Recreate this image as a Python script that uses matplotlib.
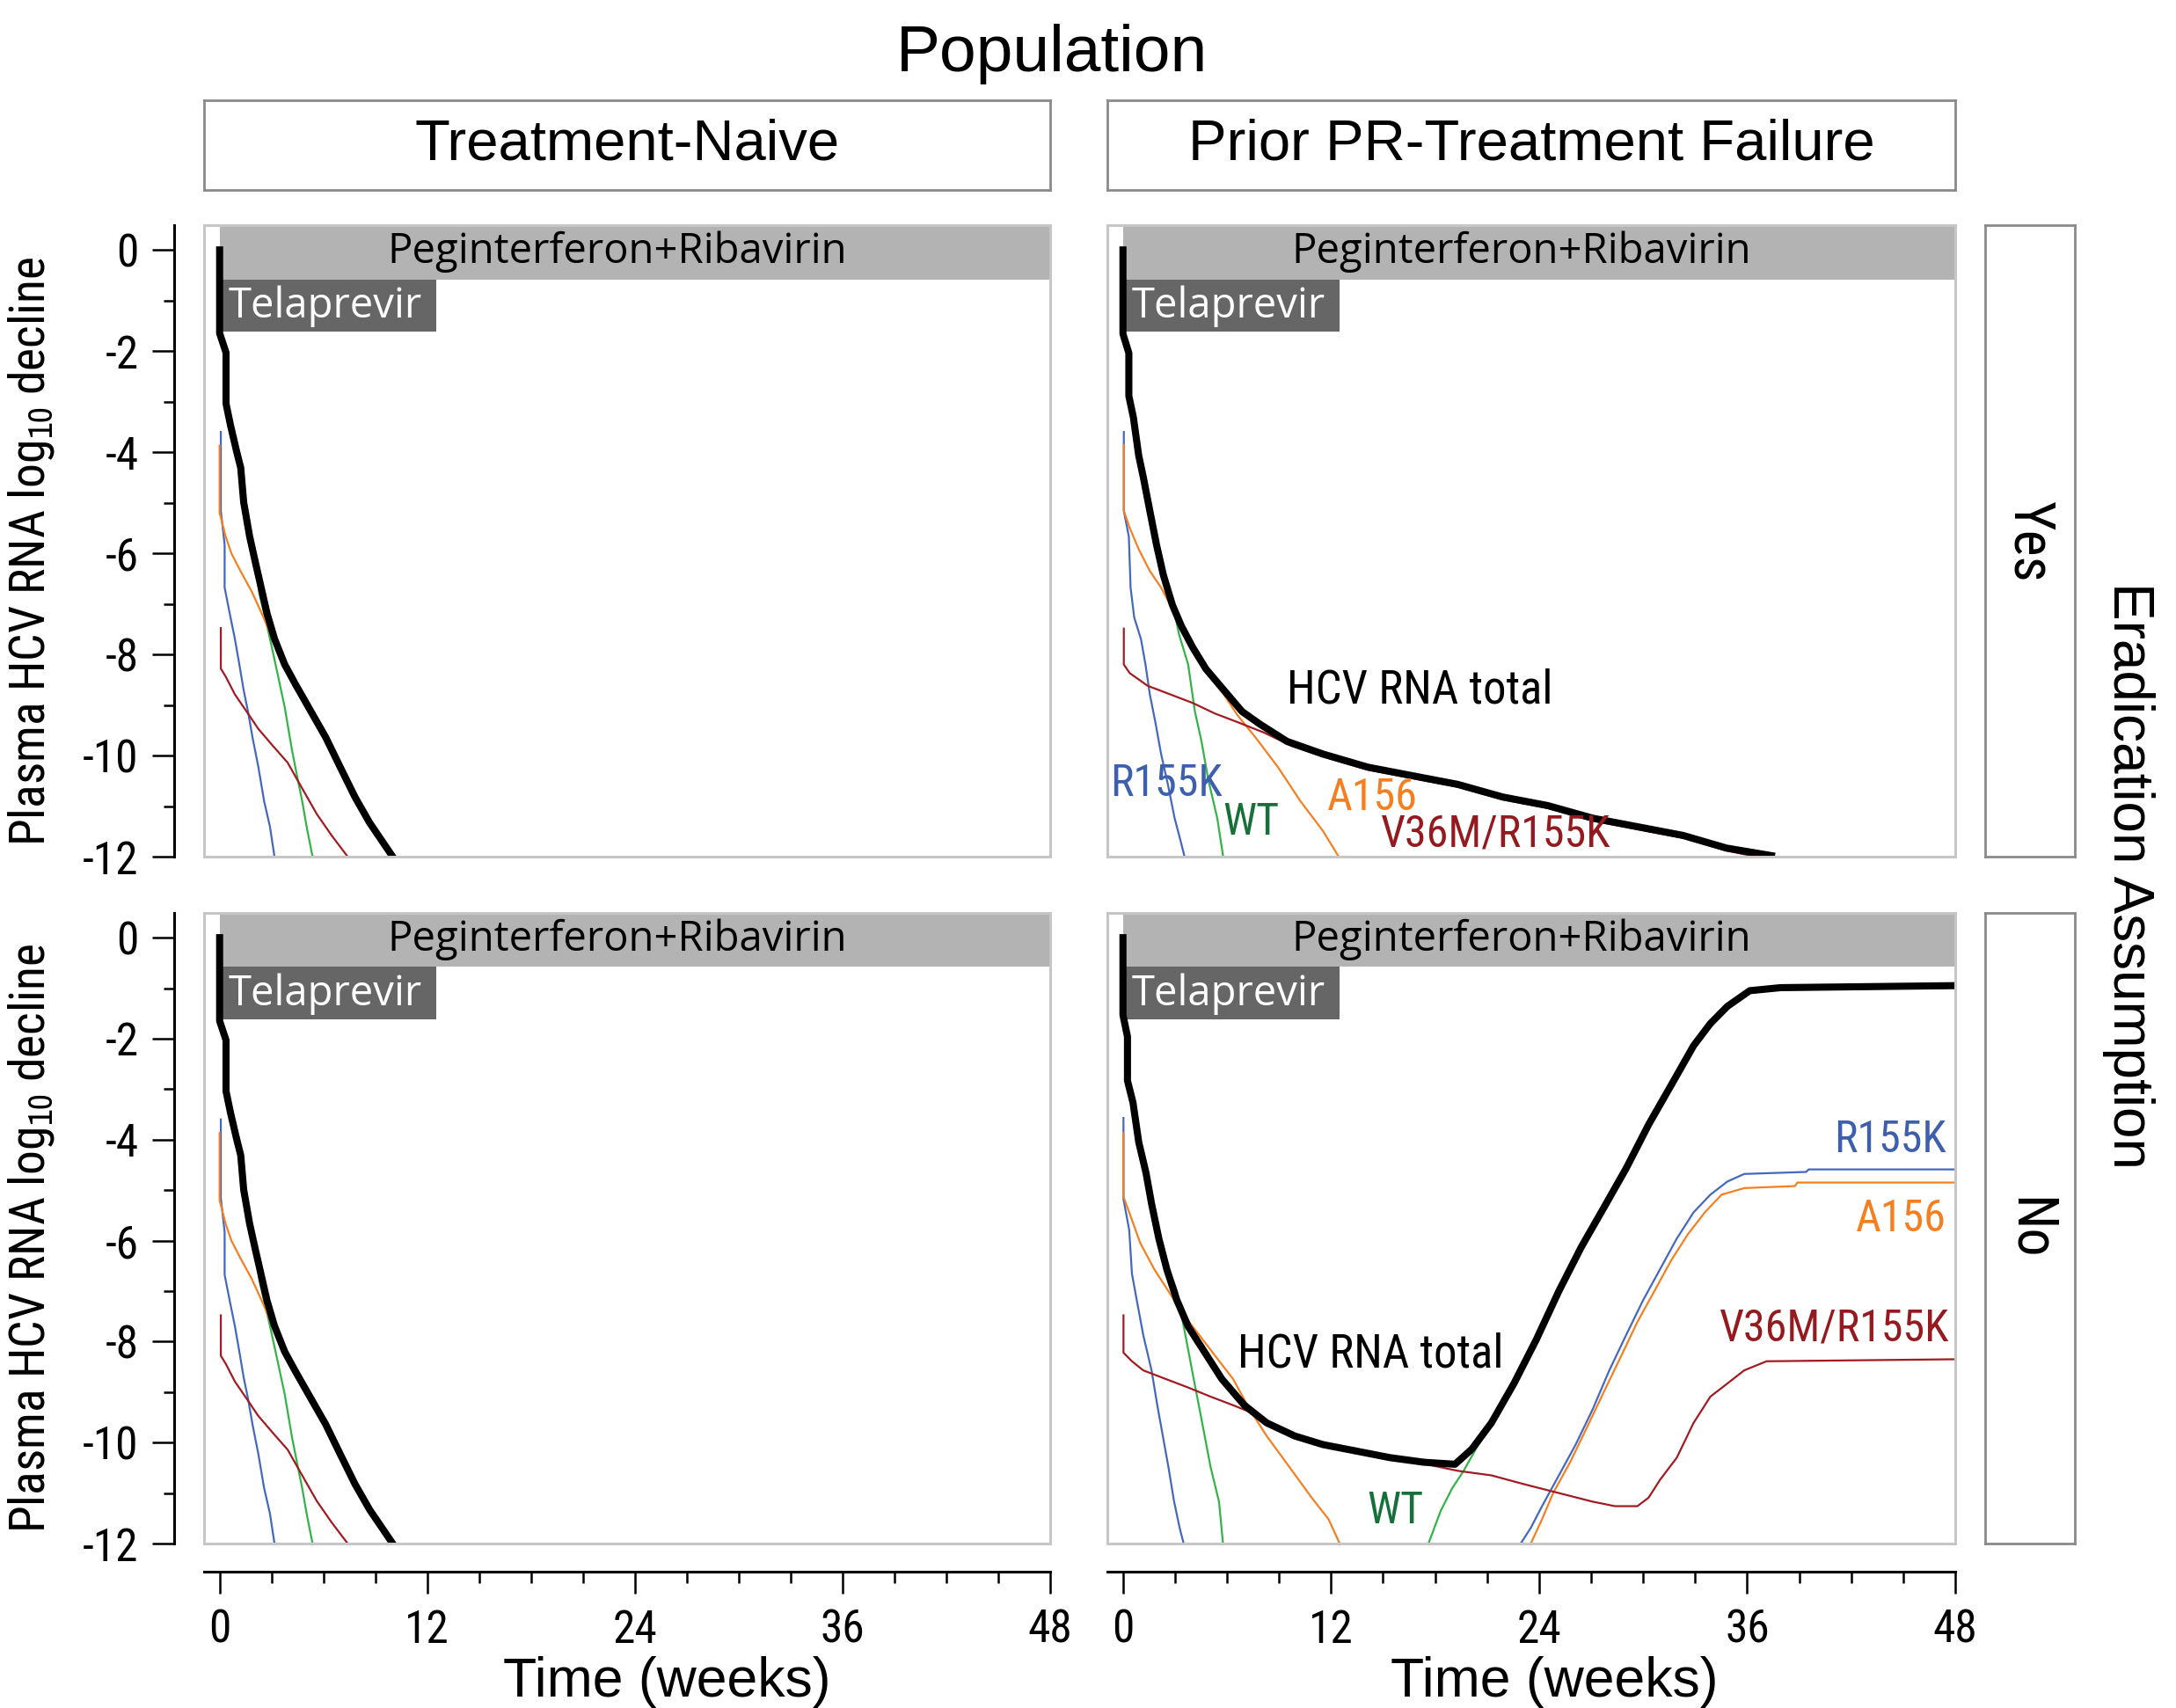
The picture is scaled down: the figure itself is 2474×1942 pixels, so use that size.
import matplotlib
matplotlib.use('Agg')
import matplotlib.pyplot as plt
from matplotlib.patches import Rectangle

plt.rcParams['axes.unicode_minus'] = False

NARROW = ['Roboto Condensed', 'Archivo Narrow', 'DejaVu Sans']
REG = ['Liberation Sans', 'DejaVu Sans']
BARFONT = ['Open Sans', 'DejaVu Sans']
plt.rcParams['mathtext.fontset'] = 'custom'
plt.rcParams['mathtext.rm'] = 'Archivo Narrow'

BLACK = '#000000'
BLUE = '#4468c0'
GREEN = '#33b348'
ORANGE = '#f48024'
DRED = '#a01c22'

# ---- treatment-naive (same in both rows) ----
naive_total_t = [0, 0, 0.37, 0.37, 0.63, 0.97, 1.22, 1.39, 1.73, 2.06, 2.4, 2.74, 3.17, 3.76, 4.43, 5.28, 6.13, 6.97, 7.82, 8.67, 10.0]
naive_total_v = [0, -1.65, -2.03, -3.04, -3.47, -3.97, -4.31, -4.99, -5.66, -6.17, -6.68, -7.19, -7.69, -8.2, -8.62, -9.13, -9.64, -10.23, -10.82, -11.33, -12.0]
naive_wt_t = [0, 0, 0.37, 0.37, 0.63, 0.97, 1.22, 1.39, 1.73, 2.06, 2.3, 2.91, 3.34, 3.76, 4.18, 4.52, 4.77, 5.03, 5.37]
naive_wt_v = [0, -1.65, -2.03, -3.04, -3.47, -3.97, -4.31, -4.99, -5.66, -6.2, -6.8, -7.69, -8.37, -9.04, -9.89, -10.48, -10.9, -11.41, -12.0]
naive_a156_t = [0.0, 0.0, 0.34, 0.68, 1.19, 1.86, 2.54, 3.05, 3.76, 4.43, 5.28, 6.13, 6.97, 7.82, 8.67, 10.0]
naive_a156_v = [-3.87, -5.2, -5.66, -6.0, -6.34, -6.76, -7.27, -7.69, -8.22, -8.64, -9.15, -9.66, -10.25, -10.84, -11.35, -12.0]
naive_r155k_t = [0.07, 0.07, 0.29, 0.29, 0.63, 0.88, 1.14, 1.39, 1.64, 1.9, 2.24, 2.57, 2.91, 3.17]
naive_r155k_v = [-3.6, -5.16, -5.83, -6.68, -7.27, -7.69, -8.2, -8.71, -9.13, -9.64, -10.23, -10.9, -11.41, -12.0]
naive_v36m_t = [0.07, 0.07, 0.37, 0.88, 1.56, 2.23, 3.08, 3.93, 4.77, 5.62, 6.47, 7.4]
naive_v36m_v = [-7.48, -8.28, -8.45, -8.79, -9.13, -9.47, -9.81, -10.14, -10.65, -11.16, -11.58, -12.0]

# ---- prior failure, eradication = Yes ----
yes_total_t = [0, 0, 0.34, 0.34, 0.6, 0.91, 1.17, 1.55, 1.94, 2.33, 2.85, 3.37, 4.02, 4.79, 5.83, 6.87, 7.9, 9.46,
               11.53, 14.12, 16.7, 19.3, 21.9, 24.5, 27.1, 29.7, 32.3, 34.8, 37.4]
yes_total_v = [0, -1.66, -2.04, -2.89, -3.31, -4.07, -4.49, -5.16, -5.84, -6.43, -7.02, -7.44, -7.86, -8.29, -8.71, -9.13, -9.38, -9.72,
               -9.97, -10.23, -10.4, -10.57, -10.82, -10.99, -11.24, -11.41, -11.58, -11.83, -11.98]
yes_wt_t = [0, 0, 0.34, 0.34, 0.6, 0.91, 1.17, 1.55, 1.94, 2.33, 2.6, 2.98, 3.24, 3.76, 4.15, 4.53, 4.92, 5.44, 5.78]
yes_wt_v = [0, -1.66, -2.04, -2.89, -3.31, -4.07, -4.49, -5.16, -5.84, -6.43, -6.7, -7.19, -7.61, -8.2, -9.13, -9.72, -10.48, -11.24, -12.0]
yes_a156_t = [0.05, 0.05, 0.39, 0.91, 1.55, 2.2, 2.85, 3.37, 4.02, 4.79, 5.83, 6.6, 7.64, 8.94, 10.23, 11.53, 12.44]
yes_a156_v = [-3.86, -5.16, -5.5, -5.92, -6.35, -6.68, -7.1, -7.5, -7.92, -8.35, -8.8, -9.2, -9.64, -10.23, -10.9, -11.49, -12.0]
yes_r155k_t = [0.05, 0.05, 0.34, 0.44, 0.65, 1.04, 1.3, 1.55, 1.89, 2.2, 2.59, 2.98, 3.37, 3.55]
yes_r155k_v = [-3.6, -5.16, -5.67, -6.68, -7.27, -7.7, -8.2, -8.79, -9.38, -9.97, -10.57, -11.24, -11.75, -12.0]
yes_v36m_t = [0.05, 0.05, 0.39, 1.42, 2.72, 4.02, 5.31, 6.61, 8.16, 9.72, 11.53, 14.12, 16.7, 19.3, 21.9, 24.5, 27.1,
              29.7, 32.3, 34.8, 36.5]
yes_v36m_v = [-7.49, -8.2, -8.37, -8.62, -8.79, -8.96, -9.17, -9.34, -9.55, -9.81, -10.02, -10.28, -10.45, -10.62, -10.87, -11.04, -11.29,
              -11.46, -11.63, -11.88, -12.0]

# ---- prior failure, eradication = No ----
no_total_t = [0, 0, 0.26, 0.26, 0.58, 0.91, 1.33, 1.65, 2.07, 2.53, 3.11, 3.76, 4.73, 5.7, 7.0, 8.29, 9.91, 11.53, 13.48, 15.42,
              17.36, 19.15, 20.12, 21.25, 22.55, 23.84, 25.14, 26.43, 27.73, 29.02, 30.32, 31.62, 32.91, 33.88, 34.86, 36.15, 37.93, 48.0]
no_total_v = [0, -1.53, -1.96, -2.83, -3.27, -4.05, -4.66, -5.27, -5.96, -6.57, -7.18, -7.7, -8.22, -8.74, -9.26, -9.61, -9.87, -10.04, -10.17, -10.3,
              -10.39, -10.43, -10.13, -9.61, -8.83, -7.96, -7.0, -6.13, -5.35, -4.57, -3.7, -2.92, -2.14, -1.7, -1.36, -1.05, -0.99, -0.95]
no_wt_fall_t = [0, 0, 0.26, 0.26, 0.58, 0.91, 1.33, 1.65, 2.07, 2.46, 3.11, 3.6, 4.08, 4.57, 5.05, 5.54, 5.77]
no_wt_fall_v = [0, -1.53, -1.96, -2.83, -3.27, -4.05, -4.66, -5.27, -5.96, -6.4, -7.0, -7.87, -8.74, -9.61, -10.48, -11.17, -12.0]
no_wt_rise_t = [17.62, 18.33, 18.98, 19.63, 20.4, 21.25, 22.55, 23.84, 25.14, 26.43, 27.73, 29.02, 30.32, 31.62, 32.91, 33.88,
                34.86, 36.15, 37.93, 48.0]
no_wt_rise_v = [-12.0, -11.35, -10.91, -10.57, -10.1, -9.65, -8.87, -8.0, -7.04, -6.17, -5.39, -4.61, -3.74, -2.96, -2.18, -1.74,
                -1.4, -1.09, -1.03, -0.99]
no_r155k_fall_t = [0.03, 0.03, 0.36, 0.52, 0.84, 1.17, 1.65, 1.98, 2.3, 2.62, 2.95, 3.27, 3.5]
no_r155k_fall_v = [-3.57, -5.18, -5.79, -6.66, -7.26, -7.87, -8.57, -9.26, -9.87, -10.48, -11.17, -11.69, -12.0]
no_r155k_rise_t = [22.94, 23.52, 24.17, 25.14, 26.11, 27.08, 28.05, 29.02, 30.0, 30.97, 31.94, 32.91, 33.88, 34.86, 35.83, 39.4, 39.55, 48.0]
no_r155k_rise_v = [-12.0, -11.69, -11.26, -10.65, -10.04, -9.35, -8.57, -7.87, -7.18, -6.57, -5.96, -5.44, -5.09, -4.83, -4.68, -4.64, -4.59, -4.59]
no_a156_fall_t = [0.03, 0.03, 0.36, 1.0, 1.81, 2.62, 3.43, 4.4, 5.38, 6.35, 7.32, 8.29, 9.59, 10.88, 11.86, 12.5]
no_a156_fall_v = [-3.87, -5.13, -5.44, -6.05, -6.57, -7.0, -7.44, -7.87, -8.31, -8.74, -9.35, -9.87, -10.48, -11.09, -11.52, -12.0]
no_a156_rise_t = [23.52, 24.17, 24.81, 25.79, 26.76, 27.73, 28.7, 29.67, 30.65, 31.62, 32.59, 33.56, 34.53, 35.83, 38.75, 38.9, 48.0]
no_a156_rise_v = [-12.0, -11.52, -11.0, -10.39, -9.7, -9.0, -8.31, -7.61, -7.0, -6.39, -5.87, -5.44, -5.09, -4.96, -4.92, -4.85, -4.85]
no_v36m_t = [0.03, 0.03, 0.52, 1.17, 2.46, 3.76, 5.05, 6.35, 7.65, 8.29, 9.91, 11.53, 13.48, 15.42, 17.36, 19.31, 21.25, 23.19,
             25.14, 27.08, 28.38, 29.67, 30.32, 30.97, 31.94, 32.91, 33.88, 34.86, 35.83, 37.12, 48.0]
no_v36m_v = [-7.48, -8.22, -8.39, -8.57, -8.74, -8.91, -9.09, -9.26, -9.44, -9.65, -9.9, -10.07, -10.2, -10.33, -10.42, -10.56, -10.65, -10.83,
             -11.0, -11.17, -11.26, -11.26, -11.09, -10.74, -10.3, -9.61, -9.09, -8.83, -8.57, -8.39, -8.35]

# text labels: (text, x, y, colour, ha, size)
yes_labels = [('HCV RNA total', 17.1, -8.71, '#000000', 'center', 38),
              ('R155K', 2.5, -10.56, '#3d5fae', 'center', 36),
              ('WT', 7.4, -11.32, '#17703a', 'center', 36),
              ('A156', 14.4, -10.84, '#f47f20', 'center', 36),
              ('V36M/R155K', 21.5, -11.55, '#951a1f', 'center', 36)]
no_labels = [('HCV RNA total', 14.3, -8.26, '#000000', 'center', 38),
             ('WT', 15.7, -11.35, '#17703a', 'center', 36),
             ('R155K', 47.5, -4.0, '#3d5fae', 'right', 36),
             ('A156', 47.5, -5.57, '#f47f20', 'right', 36),
             ('V36M/R155K', 47.65, -7.74, '#951a1f', 'right', 36)]

col_titles = ['Treatment-Naive', 'Prior PR-Treatment Failure']
row_titles = ['Yes', 'No']

W, H = 2474, 1942


def box(x0, y0, x1, y1):
    return [x0 / W, 1 - y1 / H, (x1 - x0) / W, (y1 - y0) / H]


fig = plt.figure(figsize=(W / 100, H / 100), dpi=100)

naive_curves = [(naive_r155k_t, naive_r155k_v, BLUE), (naive_wt_t, naive_wt_v, GREEN),
                (naive_a156_t, naive_a156_v, ORANGE), (naive_v36m_t, naive_v36m_v, DRED)]
yes_curves = [(yes_r155k_t, yes_r155k_v, BLUE), (yes_wt_t, yes_wt_v, GREEN),
              (yes_a156_t, yes_a156_v, ORANGE), (yes_v36m_t, yes_v36m_v, DRED)]
no_curves = [(no_r155k_fall_t, no_r155k_fall_v, BLUE), (no_r155k_rise_t, no_r155k_rise_v, BLUE),
             (no_wt_fall_t, no_wt_fall_v, GREEN), (no_wt_rise_t, no_wt_rise_v, GREEN),
             (no_a156_fall_t, no_a156_fall_v, ORANGE), (no_a156_rise_t, no_a156_rise_v, ORANGE),
             (no_v36m_t, no_v36m_v, DRED)]

panels = [
    (box(232, 256, 1194, 974), naive_curves, (naive_total_t, naive_total_v), [], True, False),
    (box(1259, 256, 2223, 974), yes_curves, (yes_total_t, yes_total_v), yes_labels, False, False),
    (box(232, 1038, 1194, 1755), naive_curves, (naive_total_t, naive_total_v), [], True, True),
    (box(1259, 1038, 2223, 1755), no_curves, (no_total_t, no_total_v), no_labels, False, True),
]

for rect, curves, total, labels, yaxis, xaxis in panels:
    ax = fig.add_axes(rect)
    ax.set_xlim(-0.9, 48)
    ax.set_ylim(-12, 0.49)
    for s in ['top', 'right']:
        ax.spines[s].set_visible(False)
    ax.add_patch(Rectangle((0, 0), 1, 1, transform=ax.transAxes, fill=False,
                           ec='#c6c6c6', lw=2.2, zorder=6, clip_on=False))

    # treatment bars
    ax.add_patch(Rectangle((0, -0.58), 48, 1.2, fc='#b3b3b3', ec='none', zorder=1))
    ax.add_patch(Rectangle((0.15, -1.62), 12.35, 1.04, fc='#666666', ec='none', zorder=1))
    ax.text(23, -0.04, 'Peginterferon+Ribavirin', ha='center', va='center',
            fontsize=34, family=BARFONT, zorder=2)
    ax.text(0.5, -1.12, 'Telaprevir', ha='left', va='center', color='white',
            fontsize=34, family=BARFONT, zorder=2)

    for t, v, c in curves:
        ax.plot(t, v, color=c, lw=1.6, zorder=3, solid_joinstyle='miter')
    ax.plot(total[0], total[1], color=BLACK, lw=5.8, zorder=4)

    for txt, x, y, c, ha, fs in labels:
        ax.text(x, y, txt, color=c, ha=ha, va='center', fontsize=fs, family=NARROW, zorder=5)

    if yaxis:
        ax.spines['left'].set_position(('outward', 24.5))
        ax.spines['left'].set_linewidth(2.2)
        ax.set_yticks(range(-12, 1, 2))
        ax.set_yticklabels([str(v) for v in range(-12, 1, 2)], family=NARROW, fontsize=37)
        ax.set_yticks(range(-11, 0, 2), minor=True)
        ax.tick_params(axis='y', which='major', length=18, width=1.8, pad=11)
        ax.tick_params(axis='y', which='minor', length=9, width=1.8)
    else:
        ax.spines['left'].set_visible(False)
        ax.set_yticks([])
    if xaxis:
        ax.spines['bottom'].set_position(('outward', 23))
        ax.spines['bottom'].set_linewidth(2.2)
        ax.set_xticks([0, 12, 24, 36, 48])
        ax.set_xticklabels(['0', '12', '24', '36', '48'], family=NARROW, fontsize=37)
        ax.set_xticks(range(3, 48, 3), minor=True)
        ax.tick_params(axis='x', which='major', length=18, width=1.8, pad=12)
        ax.tick_params(axis='x', which='minor', length=9, width=1.8)
    else:
        ax.spines['bottom'].set_visible(False)
        ax.set_xticks([])

# column strips
for rect, title in zip([box(232, 114, 1194, 216), box(1259, 114, 2223, 216)], col_titles):
    s = fig.add_axes(rect)
    s.set_xticks([])
    s.set_yticks([])
    for sp in s.spines.values():
        sp.set_color('#8a8a8a')
        sp.set_linewidth(2)
    s.text(0.5, 0.5, title, transform=s.transAxes, ha='center', va='center', fontsize=47, family=REG)

# row strips
for rect, title in zip([box(2257, 256, 2359, 974), box(2257, 1038, 2359, 1755)], row_titles):
    s = fig.add_axes(rect)
    s.set_xticks([])
    s.set_yticks([])
    for sp in s.spines.values():
        sp.set_color('#8a8a8a')
        sp.set_linewidth(2)
    s.text(0.5, 0.5, title, transform=s.transAxes, ha='center', va='center', rotation=270,
           fontsize=46, family=NARROW)

ylab = r'Plasma HCV RNA log$_{\mathrm{10}}$ decline'
fig.text(36 / W, 1 - 627 / H, ylab, ha='center', va='center', rotation=90, fontsize=40, family=NARROW)
fig.text(36 / W, 1 - 1408 / H, ylab, ha='center', va='center', rotation=90, fontsize=40, family=NARROW)
fig.text(1196 / W, 1 - 62 / H, 'Population', ha='center', va='center', fontsize=54, family=REG)
fig.text(2420 / W, 1 - 995 / H, 'Eradication Assumption', ha='center', va='center', rotation=270,
         fontsize=46, family=REG)
fig.text(758 / W, 1 - 1912 / H, 'Time (weeks)', ha='center', va='center', fontsize=45, family=REG)
fig.text(1767 / W, 1 - 1912 / H, 'Time (weeks)', ha='center', va='center', fontsize=45, family=REG)

fig.savefig('out.png', dpi=100)
